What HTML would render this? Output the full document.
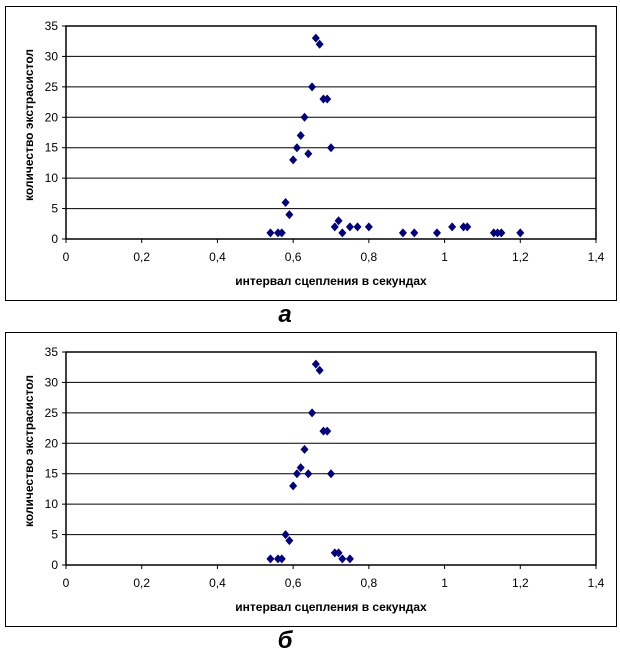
<!DOCTYPE html>
<html><head><meta charset="utf-8"><style>
body{margin:0;background:#fff;width:620px;height:653px;overflow:hidden}
svg{display:block}
text{font-family:"Liberation Sans",sans-serif}
</style></head><body>
<svg id="s" width="620" height="653"></svg>
<script>
const xTicks=[0,0.2,0.4,0.6,0.8,1,1.2,1.4];
const xTickLabels=["0","0,2","0,4","0,6","0,8","1","1,2","1,4"];
const yTicks=[0,5,10,15,20,25,30,35];
const xA=[0.54,0.56,0.57,0.58,0.59,0.60,0.61,0.62,0.63,0.64,0.65,0.66,0.67,0.68,0.69,0.70,0.71,0.72,0.73,0.75,0.77,0.80,0.89,0.92,0.98,1.02,1.05,1.06,1.13,1.14,1.15,1.20];
const yA=[1,1,1,6,4,13,15,17,20,14,25,33,32,23,23,15,2,3,1,2,2,2,1,1,1,2,2,2,1,1,1,1];
const xB=[0.54,0.56,0.57,0.58,0.59,0.60,0.61,0.62,0.63,0.64,0.65,0.66,0.67,0.68,0.69,0.70,0.71,0.72,0.73,0.75];
const yB=[1,1,1,5,4,13,15,16,19,15,25,33,32,22,22,15,2,2,1,1];
const NS="http://www.w3.org/2000/svg";
const svg=document.getElementById('s');
function mk(tag,attrs,parent,txt){const e=document.createElementNS(NS,tag);for(const k in attrs)e.setAttribute(k,attrs[k]);if(txt!=null)e.textContent=txt;parent.appendChild(e);return e;}
function chart(oy,xs,ys,letter,id){
  const g=mk('g',{},svg);
  
  
  const L=66,R=596,T=oy+26,B=oy+239;
  const sx=v=>L+(v/1.4)*(R-L), sy=v=>B-(v/35)*(B-T);
  const fr=mk('rect',{x:5.5,y:oy+6.5,width:611,height:294,fill:'#fff',stroke:'#000','stroke-width':1},g);
  
  
  yTicks.forEach(t=>{
    if(t>0){const l=mk('line',{x1:L,x2:R,y1:sy(t),y2:sy(t),stroke:'#000','stroke-width':1},g);
    
    }
    mk('line',{x1:L-4,x2:L,y1:sy(t),y2:sy(t),stroke:'#000'},g);
    const tx=mk('text',{x:L-8,y:sy(t)+4,'text-anchor':'end','font-size':12,fill:'#000'},g,String(t));
    
    
  });
  const pa=mk('rect',{x:L,y:T,width:R-L,height:B-T,fill:'none',stroke:'#000','stroke-width':1.5},g);
  
  
  xTicks.forEach((t,i)=>{
    mk('line',{x1:sx(t),x2:sx(t),y1:B,y2:B+4,stroke:'#000'},g);
    const tx=mk('text',{x:sx(t),y:B+22,'text-anchor':'middle','font-size':12,fill:'#000'},g,xTickLabels[i]);
    
    
  });
  xs.forEach((x,i)=>{
    const cx=sx(x),cy=sy(ys[i]);
    const p=mk('polygon',{points:`${cx},${cy-4.5} ${cx+4},${cy} ${cx},${cy+4.5} ${cx-4},${cy}`,fill:'#000080'},g);
    
    
  });
  const xt=mk('text',{x:331,y:oy+285,'text-anchor':'middle','font-size':12,'font-weight':'bold',fill:'#000'},g,'интервал сцепления в секундах');
  
  
  const yt=mk('text',{x:0,y:0,'text-anchor':'middle','font-size':12,'font-weight':'bold',fill:'#000',transform:`translate(33,${oy+125}) rotate(-90)`},g,'количество экстрасистол');
  
  
  const lt=mk('text',{x:285,y:oy+322,'text-anchor':'middle','font-size':24,'font-weight':'bold','font-style':'italic','font-family':'Liberation Serif,serif',fill:'#000'},g,letter);
  
  
}
chart(0,xA,yA,'а','a');
chart(326,xB,yB,'б','b');
</script>
</body></html>
